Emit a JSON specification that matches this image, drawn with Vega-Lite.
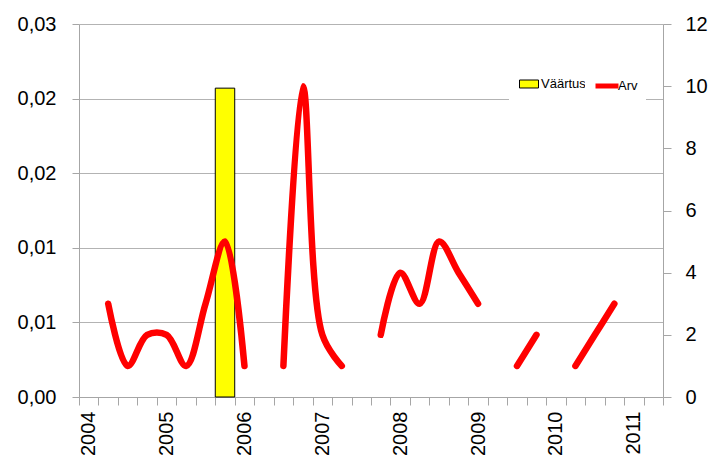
{
  "$schema": "https://vega.github.io/schema/vega-lite/v6.json",
  "width": 584,
  "height": 373,
  "autosize": {"type": "none"},
  "padding": {"left": 79, "top": 24, "right": 60, "bottom": 64},
  "background": "white",
  "config": {
    "view": {"stroke": null},
    "font": "Liberation Sans",
    "axis": {
      "labelFont": "Liberation Sans",
      "labelFontSize": 20,
      "labelColor": "black",
      "domainColor": "#a6a6a6",
      "tickColor": "#a6a6a6",
      "gridColor": "#b3b3b3",
      "title": null
    },
    "legend": {"labelFont": "Liberation Sans", "labelColor": "black"}
  },
  "data": {
    "values": [
      {"q": "2004-1", "arv": null, "vaartus": null},
      {"q": "2004-2", "arv": 3, "vaartus": null},
      {"q": "2004-3", "arv": 1, "vaartus": null},
      {"q": "2004-4", "arv": 2, "vaartus": null},
      {"q": "2005-1", "arv": 2, "vaartus": null},
      {"q": "2005-2", "arv": 1, "vaartus": null},
      {"q": "2005-3", "arv": 3, "vaartus": null},
      {"q": "2005-4", "arv": 5, "vaartus": 0.0207},
      {"q": "2006-1", "arv": 1, "vaartus": null},
      {"q": "2006-2", "arv": null, "vaartus": null},
      {"q": "2006-3", "arv": 1, "vaartus": null},
      {"q": "2006-4", "arv": 10, "vaartus": null},
      {"q": "2007-1", "arv": 2, "vaartus": null},
      {"q": "2007-2", "arv": 1, "vaartus": null},
      {"q": "2007-3", "arv": null, "vaartus": null},
      {"q": "2007-4", "arv": 2, "vaartus": null},
      {"q": "2008-1", "arv": 4, "vaartus": null},
      {"q": "2008-2", "arv": 3, "vaartus": null},
      {"q": "2008-3", "arv": 5, "vaartus": null},
      {"q": "2008-4", "arv": 4, "vaartus": null},
      {"q": "2009-1", "arv": 3, "vaartus": null},
      {"q": "2009-2", "arv": null, "vaartus": null},
      {"q": "2009-3", "arv": 1, "vaartus": null},
      {"q": "2009-4", "arv": 2, "vaartus": null},
      {"q": "2010-1", "arv": null, "vaartus": null},
      {"q": "2010-2", "arv": 1, "vaartus": null},
      {"q": "2010-3", "arv": 2, "vaartus": null},
      {"q": "2010-4", "arv": 3, "vaartus": null},
      {"q": "2011-1", "arv": null, "vaartus": null},
      {"q": "2011-2", "arv": null, "vaartus": null}
    ]
  },
  "encoding": {
    "x": {
      "field": "q",
      "type": "ordinal",
      "sort": null,
      "scale": {
        "domain": ["2004-1","2004-2","2004-3","2004-4","2005-1","2005-2","2005-3","2005-4","2006-1","2006-2","2006-3","2006-4","2007-1","2007-2","2007-3","2007-4","2008-1","2008-2","2008-3","2008-4","2009-1","2009-2","2009-3","2009-4","2010-1","2010-2","2010-3","2010-4","2011-1","2011-2"],
        "paddingInner": 0,
        "paddingOuter": 0
      },
      "axis": {
        "title": null,
        "tickBand": "extent",
        "labelAngle": 270,
        "labelAlign": "right",
        "labelBaseline": "middle",
        "labelPadding": 6,
        "tickSize": 8,
        "labelOverlap": false,
        "grid": false,
        "labelExpr": "split(datum.value, '-')[1] == '1' ? split(datum.value, '-')[0] : ''"
      }
    }
  },
  "layer": [
    {
      "transform": [{"filter": "datum.vaartus != null"}],
      "mark": {"type": "bar", "stroke": "black", "strokeWidth": 1},
      "encoding": {
        "y": {
          "field": "vaartus",
          "type": "quantitative",
          "scale": {"domain": [0, 0.025], "nice": false},
          "axis": {
            "orient": "left",
            "title": null,
            "values": [0, 0.005, 0.01, 0.015, 0.02, 0.025],
            "labelExpr": "replace(format(round(datum.value * 100 + 0.000001) / 100, '.2f'), '.', ',')",
            "grid": true,
            "tickSize": 7,
            "labelPadding": 16
          }
        },
        "fill": {
          "datum": "Väärtus",
          "type": "nominal",
          "scale": {"range": ["#FFFF00"]},
          "legend": {
            "title": null,
            "orient": "none",
            "legendX": 430,
            "legendY": 40,
            "fillColor": "white",
            "padding": 10,
            "symbolType": "M-1,-0.42H1V0.42H-1Z",
            "symbolSize": 361,
            "symbolStrokeColor": "black",
            "symbolStrokeWidth": 1,
            "labelFontSize": 13,
            "labelOffset": 2
          }
        }
      }
    },
    {
      "mark": {
        "type": "line",
        "interpolate": "catmull-rom",
        "strokeWidth": 6.5,
        "strokeCap": "round",
        "strokeJoin": "round",
        "invalid": "break-paths-show-domains"
      },
      "encoding": {
        "y": {
          "field": "arv",
          "type": "quantitative",
          "scale": {"domain": [0, 12], "nice": false},
          "axis": {
            "orient": "right",
            "title": null,
            "values": [0, 2, 4, 6, 8, 10, 12],
            "grid": false,
            "tickSize": 8,
            "labelPadding": 14
          }
        },
        "stroke": {
          "datum": "Arv",
          "type": "nominal",
          "scale": {"range": ["#FF0000"]},
          "legend": {
            "title": null,
            "orient": "none",
            "legendX": 506,
            "legendY": 40,
            "fillColor": "white",
            "padding": 8,
            "symbolType": "stroke",
            "symbolSize": 529,
            "symbolStrokeWidth": 5,
            "labelFontSize": 13,
            "labelOffset": -3
          }
        }
      }
    }
  ],
  "resolve": {"scale": {"y": "independent"}}
}
